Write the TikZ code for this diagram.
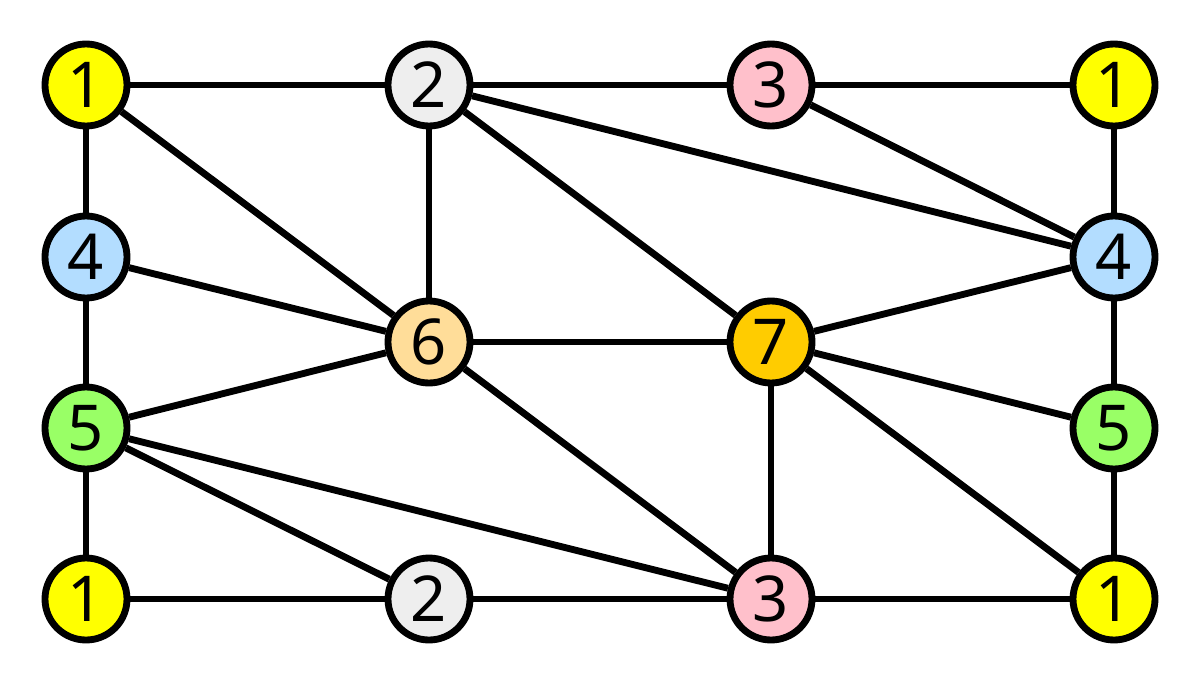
\documentclass[tikz,border=0pt]{standalone}
\usepackage{fontspec}
\setmainfont{Noto Sans}
\begin{document}
\begin{tikzpicture}[x=0.02cm,y=-0.02cm,
  vtx/.style={circle,draw=black,line width=3.9pt,minimum size=82*0.02cm,inner sep=0pt,font=\fontsize{36}{36}\selectfont},
  edge/.style={line width=3.9pt,black}]
\useasboundingbox (0,0) rectangle (1200,686);
\definecolor{cy}{HTML}{FFFF00}
\definecolor{cg}{HTML}{EEEEEE}
\definecolor{cp}{HTML}{FFC0CB}
\definecolor{cb}{HTML}{B3DDFF}
\definecolor{cl}{HTML}{99FF66}
\definecolor{co}{HTML}{FFDD99}
\definecolor{cd}{HTML}{FFCC00}
\node[vtx,fill=cy] (a1) at (86,85) {1};
\node[vtx,fill=cg] (b2) at (429,85) {2};
\node[vtx,fill=cp] (c3) at (771,85) {3};
\node[vtx,fill=cy] (d1) at (1114,85) {1};
\node[vtx,fill=cb] (l4) at (86,257) {4};
\node[vtx,fill=cb] (r4) at (1114,257) {4};
\node[vtx,fill=co] (n6) at (429,342) {6};
\node[vtx,fill=cd] (n7) at (771,342) {7};
\node[vtx,fill=cl] (l5) at (86,428) {5};
\node[vtx,fill=cl] (r5) at (1114,428) {5};
\node[vtx,fill=cy] (e1) at (86,599) {1};
\node[vtx,fill=cg] (f2) at (429,599) {2};
\node[vtx,fill=cp] (g3) at (771,599) {3};
\node[vtx,fill=cy] (h1) at (1114,599) {1};
\foreach \u/\v in {a1/b2,b2/c3,c3/d1,a1/l4,l4/l5,l5/e1,d1/r4,r4/r5,r5/h1,
  e1/f2,f2/g3,g3/h1,a1/n6,b2/n6,b2/r4,b2/n7,c3/r4,l4/n6,l5/n6,n6/n7,
  n7/r4,n7/r5,n7/g3,n7/h1,n6/g3,l5/f2,l5/g3}
  \draw[edge] (\u) -- (\v);
\end{tikzpicture}
\end{document}
